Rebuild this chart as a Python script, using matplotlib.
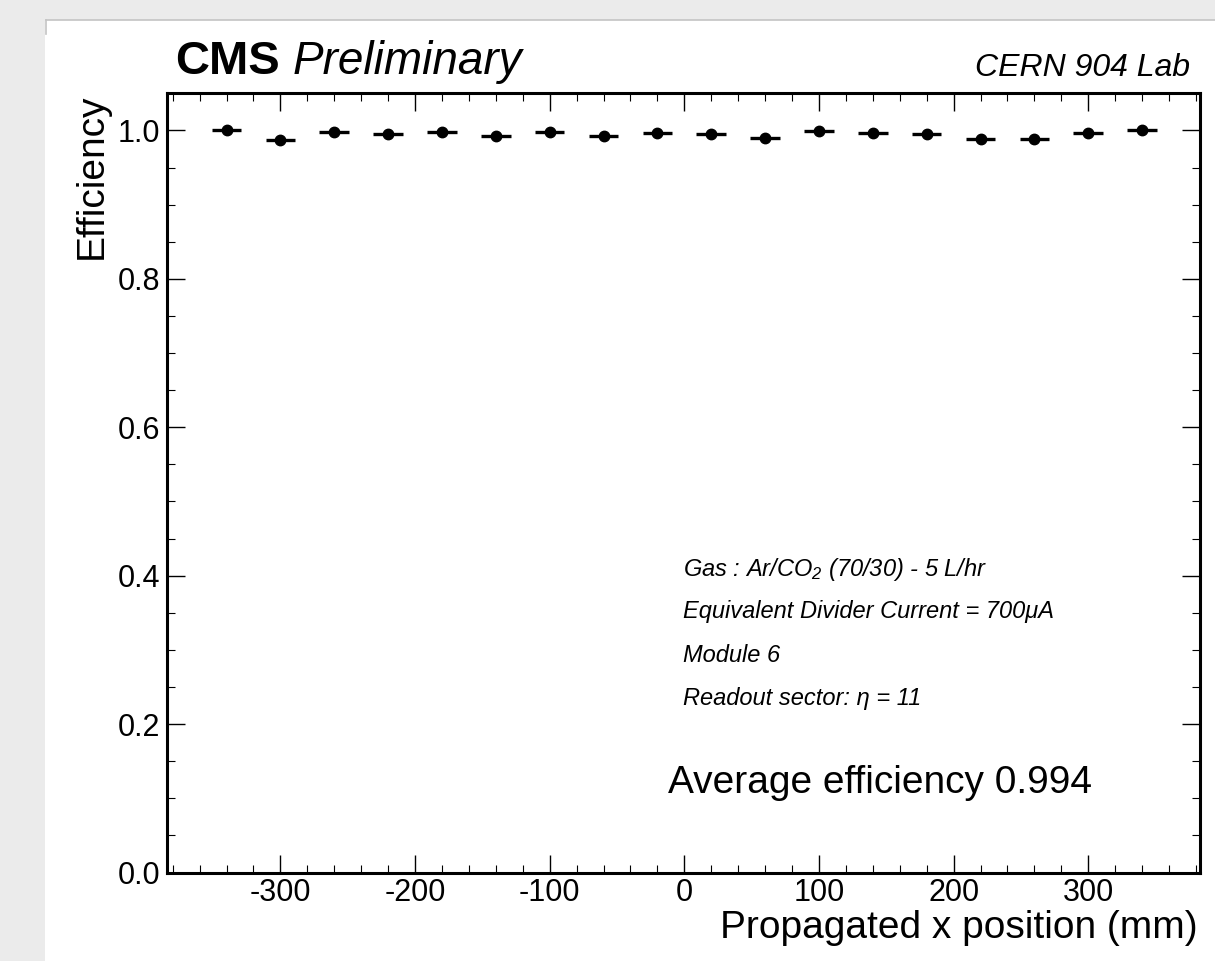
import matplotlib
matplotlib.use("Agg")
import matplotlib.pyplot as plt
from matplotlib.patches import Rectangle
from matplotlib.lines import Line2D
from matplotlib.ticker import MultipleLocator

plt.rcParams['font.family'] = ['Liberation Sans', 'DejaVu Sans']
plt.rcParams['mathtext.fontset'] = 'custom'
plt.rcParams['mathtext.rm'] = 'Liberation Sans:italic'
plt.rcParams['mathtext.it'] = 'Liberation Sans:italic'

# data
x_pos = [-340, -300, -260, -220, -180, -140, -100, -60, -20,
         20, 60, 100, 140, 180, 220, 260, 300, 340]
efficiency = [1.000, 0.987, 0.998, 0.995, 0.998, 0.993, 0.998, 0.993, 0.997,
              0.9945, 0.990, 0.999, 0.997, 0.9945, 0.9885, 0.9885, 0.996, 1.000]
x_halfwidth = 11
x_ticks = [-300, -200, -100, 0, 100, 200, 300]
y_ticks = [0.0, 0.2, 0.4, 0.6, 0.8, 1.0]
info_lines = [r"Gas : Ar/CO$_2$ (70/30) - 5 L/hr",
              "Equivalent Divider Current = 700μA",
              "Module 6",
              "Readout sector: η = 11"]
avg_text = "Average efficiency 0.994"

W, H = 1215, 961
fig = plt.figure(figsize=(W / 100, H / 100), dpi=100)
fig.patch.set_facecolor('#ebebeb')
# white canvas with thin border like the screenshot
fig.add_artist(Rectangle((45 / W, 0), 1 - 45 / W, 941 / H, transform=fig.transFigure,
                         facecolor='white', edgecolor='none', zorder=-10))
fig.add_artist(Line2D([46 / W, 1], [941 / H, 941 / H], transform=fig.transFigure,
                      color='#c4c4c4', lw=1.2, zorder=-9))
fig.add_artist(Line2D([46 / W, 46 / W], [941 / H, 927 / H], transform=fig.transFigure,
                      color='#c4c4c4', lw=1.2, zorder=-9))

ax = fig.add_axes([167.3 / W, (H - 872.5) / H, (1200 - 167.3) / W, (872.5 - 93.3) / H])
ax.set_facecolor('white')

ax.errorbar(x_pos, efficiency, xerr=x_halfwidth, fmt='o', color='black',
            markersize=7.5, elinewidth=2.4, capsize=0)

ax.set_xlim(-384, 383)
ax.set_ylim(0, 1.05)
ax.set_xticks(x_ticks)
ax.set_xticklabels([str(t) for t in x_ticks])
ax.set_yticks(y_ticks)
ax.set_yticklabels(['%.1f' % t for t in y_ticks])
ax.xaxis.set_minor_locator(MultipleLocator(20))
ax.yaxis.set_minor_locator(MultipleLocator(0.05))
ax.tick_params(which='both', direction='in', top=True, right=True, labelsize=22)
ax.tick_params(which='major', length=13, width=1.0)
ax.tick_params(which='minor', length=6, width=0.8)
ax.tick_params(axis='x', pad=4)
ax.tick_params(axis='y', pad=5)
for s in ax.spines.values():
    s.set_linewidth(2.2)

ax.set_xlabel('Propagated x position (mm)', fontsize=28, loc='right')
ax.xaxis.set_label_coords(0.998, -0.048)
ax.set_ylabel('Efficiency', fontsize=28, loc='top')
ax.yaxis.set_label_coords(-0.0555, 1.0)

ax.text(0.0075, 1.0247, 'CMS', transform=ax.transAxes, fontsize=34,
        fontweight='bold', va='baseline', ha='left')
ax.text(0.1217, 1.0247, 'Preliminary', transform=ax.transAxes, fontsize=33,
        fontstyle='italic', va='baseline', ha='left')
ax.text(0.99, 1.0222, 'CERN 904 Lab', transform=ax.transAxes, fontsize=23,
        fontstyle='italic', va='baseline', ha='right')

info_y = [0.3805, 0.3266, 0.2705, 0.215]
for txt, yy in zip(info_lines, info_y):
    ax.text(0.4994, yy, txt, transform=ax.transAxes, fontsize=17,
            fontstyle='italic', va='baseline', ha='left')
ax.text(0.4849, 0.102, avg_text, transform=ax.transAxes, fontsize=28,
        va='baseline', ha='left')

fig.savefig('out.png', dpi=100, facecolor=fig.get_facecolor())
